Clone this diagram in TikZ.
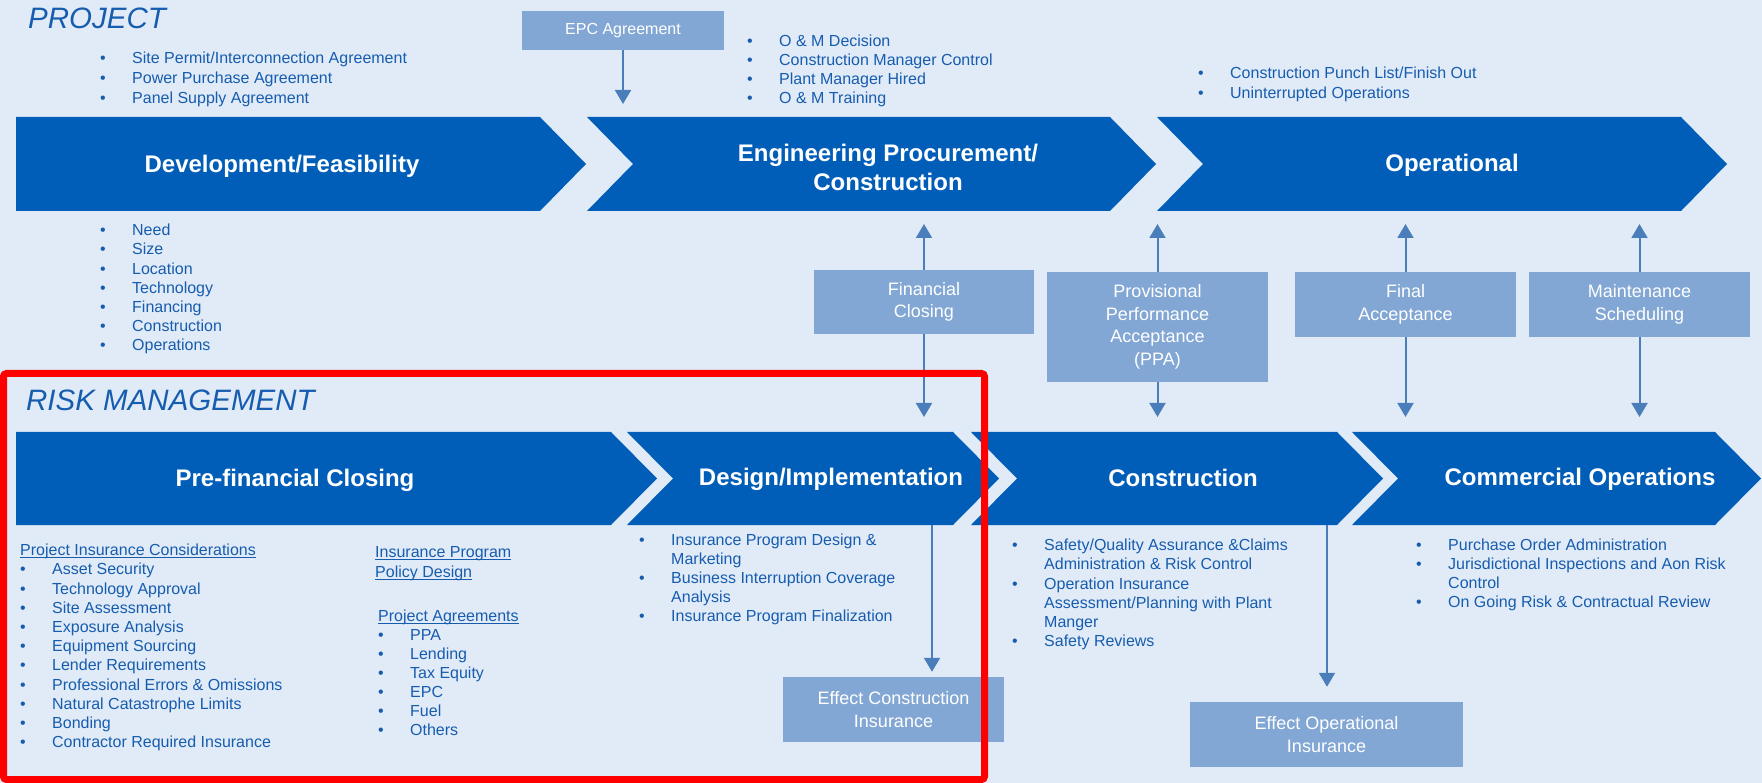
\documentclass[tikz,border=0pt]{standalone}
\usepackage{fontspec}
\setmainfont{Liberation Sans}
\usetikzlibrary{arrows.meta, positioning, calc}

\definecolor{bgblue}{RGB}{225,235,247}
\definecolor{chevblue}{RGB}{0,94,184}
\definecolor{boxblue}{RGB}{130,167,212}
\definecolor{lineblue}{RGB}{74,126,187}
\definecolor{txtblue}{RGB}{22,92,175}

\newcommand{\bi}{\makebox[32pt][l]{\textbullet}}
\newcommand{\bc}{\hspace*{32pt}}
\newcommand{\uln}[1]{\underline{\smash{#1}}}

\begin{document}
\begin{tikzpicture}[x=1pt, y=-1pt,
    chev/.style={fill=chevblue},
    ttl/.style={text=white, font=\fontsize{24}{29}\selectfont\bfseries, align=center, inner sep=0pt},
    head/.style={anchor=west, text=txtblue, font=\fontsize{29.5}{33}\selectfont\itshape, inner sep=0pt},
    box/.style={fill=boxblue, text=white, font=\fontsize{18}{22.5}\selectfont, align=center, inner sep=0pt},
    blist/.style={anchor=base west, inner sep=0pt, text=txtblue, font=\fontsize{16}{19.2}\selectfont},
    conn/.style={draw=lineblue, line width=2pt, -{Triangle[length=14pt, width=16pt]}}]

      \useasboundingbox (0,0) rectangle (1762,783);
      \fill[bgblue] (0,0) rectangle (1762,783);

      % chevrons, project row and risk row
      \foreach \xl/\xn/\xb/\yt/\yb in {16/16/540/117/211, 587/633/1110/117/211, 1157/1203/1681/117/211,
                                      16/16/611/432/525, 627/673/953/432/525, 971/1017/1337/432/525, 1352/1398/1715/432/525}
        \fill[chev] (\xl,\yt) -- (\xb,\yt) -- ({\xb+46},{(\yt+\yb)/2}) -- (\xb,\yb) -- (\xl,\yb) -- (\xn,{(\yt+\yb)/2}) -- cycle;

      \node[ttl] (devf) at (282,166) {Development/Feasibility};
      \node[ttl] (epcn) at (888,167.5) {Engineering Procurement/\\Construction};
      \node[ttl] (oper) at (1452,165) {Operational};
      \node[ttl] (prefc) at (295,480) {Pre-financial Closing};
      \node[ttl] (desim) at (831,479) {Design/Implementation};
      \node[ttl] (cnstr) at (1183,478) {Construction};
      \node[ttl] (comop) at (1580,479) {Commercial Operations};

      \node[head] (proj) at (28,18) {PROJECT};
      \node[head] (risk) at (26,400) {RISK MANAGEMENT};

      % milestone boxes
      \node[box, minimum width=202pt, minimum height=39pt, font=\fontsize{16}{19}\selectfont] (epca) at (623,30.5) {EPC Agreement};
      \node[box, minimum width=220pt, minimum height=64pt] (finc) at (924,302) {Financial\\Closing};
      \node[box, minimum width=221pt, minimum height=110pt] (ppac) at (1157.5,327) {Provisional\\Performance\\Acceptance\\(PPA)};
      \node[box, minimum width=221pt, minimum height=65pt] (facc) at (1405.5,304.5) {Final\\Acceptance};
      \node[box, minimum width=221pt, minimum height=65pt] (mnts) at (1639.5,304.5) {Maintenance\\Scheduling};
      \node[box, minimum width=221pt, minimum height=65pt] (ecins) at (893.5,709.5) {Effect Construction\\Insurance};
      \node[box, minimum width=273pt, minimum height=65pt] (eoins) at (1326.5,734.5) {Effect Operational\\Insurance};

      \coordinate (r1top) at (0,117);
      \coordinate (r1bot) at (0,211);
      \coordinate (r2top) at (0,432);
      \coordinate (desout) at (932,525);
      \coordinate (conout) at (1327,525);

      \draw[conn, shorten >=13pt] (epca.south) -- (epca.south |- r1top);
      \foreach \b in {finc, ppac, facc, mnts} {
        \draw[conn, shorten >=13pt] (\b.north) -- (\b.north |- r1bot);
        \draw[conn, shorten >=15pt] (\b.south) -- (\b.south |- r2top);
      }
      \draw[conn, shorten >=5pt] (desout) -- (desout |- ecins.north);
      \draw[conn, shorten >=15pt] (conout) -- (conout |- eoins.north);

      % bullet lists
      \node[blist, font=\fontsize{16}{20}\selectfont] (devtop) at (100,63.7) {\begin{tabular}[t]{@{}l@{}}
        \bi Site Permit/Interconnection Agreement\\ \bi Power Purchase Agreement\\ \bi Panel Supply Agreement\end{tabular}};
      \node[blist] (devbot) at (100,235.7) {\begin{tabular}[t]{@{}l@{}}
        \bi Need\\ \bi Size\\ \bi Location\\ \bi Technology\\ \bi Financing\\ \bi Construction\\ \bi Operations\end{tabular}};
      \node[blist, font=\fontsize{16}{19}\selectfont] (epcl) at (747,46.7) {\begin{tabular}[t]{@{}l@{}}
        \bi O \& M Decision\\ \bi Construction Manager Control\\ \bi Plant Manager Hired\\ \bi O \& M Training\end{tabular}};
      \node[blist, font=\fontsize{16}{20}\selectfont] (operl) at (1198,78.7) {\begin{tabular}[t]{@{}l@{}}
        \bi Construction Punch List/Finish Out\\ \bi Uninterrupted Operations\end{tabular}};

      \node[blist] (pinsc) at (20,555.7) {\begin{tabular}[t]{@{}l@{}}
        \uln{Project Insurance Considerations}\\ \bi Asset Security\\ \bi Technology Approval\\ \bi Site Assessment\\
        \bi Exposure Analysis\\ \bi Equipment Sourcing\\ \bi Lender Requirements\\ \bi Professional Errors \& Omissions\\
        \bi Natural Catastrophe Limits\\ \bi Bonding\\ \bi Contractor Required Insurance\end{tabular}};
      \node[blist, font=\fontsize{16}{20}\selectfont] (ipol) at (375,557.7) {\begin{tabular}[t]{@{}l@{}}
        \uln{Insurance Program}\\ \uln{Policy Design}\end{tabular}};
      \node[blist, font=\fontsize{16}{19}\selectfont] (pagr) at (378,621.7) {\begin{tabular}[t]{@{}l@{}}
        \uln{Project Agreements}\\ \bi PPA\\ \bi Lending\\ \bi Tax Equity\\ \bi EPC\\ \bi Fuel\\ \bi Others\end{tabular}};

      \node[blist, font=\fontsize{16}{19}\selectfont] (desl) at (639,545.7) {\begin{tabular}[t]{@{}l@{}}
        \bi Insurance Program Design \&\\ \bc Marketing\\ \bi Business Interruption Coverage\\ \bc Analysis\\
        \bi Insurance Program Finalization\end{tabular}};
      \node[blist] (conl) at (1012,550.7) {\begin{tabular}[t]{@{}l@{}}
        \bi Safety/Quality Assurance \&Claims\\ \bc Administration \& Risk Control\\ \bi Operation Insurance\\
        \bc Assessment/Planning with Plant\\ \bc Manger\\ \bi Safety Reviews\end{tabular}};
      \node[blist, font=\fontsize{16}{19}\selectfont] (coml) at (1416,550.7) {\begin{tabular}[t]{@{}l@{}}
        \bi Purchase Order Administration\\ \bi Jurisdictional Inspections and Aon Risk\\ \bc Control\\
        \bi On Going Risk \& Contractual Review\end{tabular}};

      % highlight frame
      \draw[red, line width=7pt, rounded corners=3pt] (3.5,373.5) rectangle (984.5,779.5);

    \end{tikzpicture}
\end{document}
